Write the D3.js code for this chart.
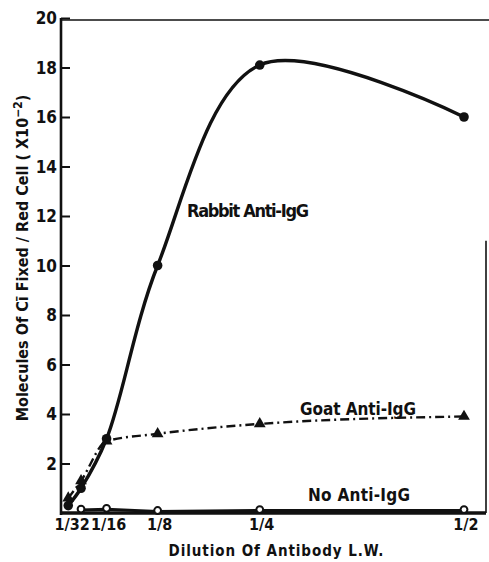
<!DOCTYPE html>
<html>
<head>
<meta charset="utf-8">
<script src="https://cdn.jsdelivr.net/npm/d3@7"></script>
<style>
  body { margin: 0; background: #fff; }
  text { font-family: "DejaVu Sans Condensed", "DejaVu Sans", sans-serif; font-weight: bold; fill: #111; }
</style>
</head>
<body>
<svg id="chart" width="489" height="562"></svg>
<script>
// Data
const dilutions = [1 / 64, 1 / 32, 1 / 16, 1 / 8, 1 / 4, 1 / 2];
const rabbit = [0.3, 1.0, 3.0, 10.0, 18.1, 16.0];
const goat = [0.6, 1.3, 2.9, 3.2, 3.6, 3.9];
const noAntiDilutions = [1 / 32, 1 / 16, 1 / 8, 1 / 4, 1 / 2];
const noAnti = [0.12, 0.15, 0.06, 0.1, 0.1];

const xTickValues = [1 / 32, 1 / 16, 1 / 8, 1 / 4, 1 / 2];
const xTickLabels = ["1/32", "1/16", "1/8", "1/4", "1/2"];
const yTickValues = [2, 4, 6, 8, 10, 12, 14, 16, 18, 20];

const svg = d3.select("#chart");

const x = d3.scaleLinear().domain([0, 0.5]).range([55.5, 464]);
const y = d3.scaleLinear().domain([0, 20]).range([513, 18]);

const axisLeft = 61, axisRight = 486;

// frame
svg.append("line")
  .attr("x1", axisLeft).attr("x2", 489)
  .attr("y1", y(20) + 2).attr("y2", y(20) + 2)
  .attr("stroke", "#111").attr("stroke-width", 1.6);
svg.append("line")
  .attr("x1", axisRight).attr("x2", axisRight)
  .attr("y1", y(11)).attr("y2", y(0))
  .attr("stroke", "#111").attr("stroke-width", 1.6);

// y axis
const yAxis = d3.axisRight(y)
  .tickValues(yTickValues)
  .tickSize(9)
  .tickFormat("");
const gy = svg.append("g").attr("transform", `translate(${axisLeft},0)`).call(yAxis);
gy.select(".domain").remove();
gy.selectAll(".tick line").attr("stroke", "#111").attr("stroke-width", 2);
svg.append("line")
  .attr("x1", axisLeft).attr("x2", axisLeft)
  .attr("y1", y(20)).attr("y2", y(0) + 2)
  .attr("stroke", "#111").attr("stroke-width", 2.6);

svg.append("g")
  .selectAll("text")
  .data(yTickValues)
  .join("text")
  .attr("x", axisLeft - 4)
  .attr("y", (d) => y(d) + 6)
  .attr("text-anchor", "end")
  .style("font-size", "17px")
  .text((d) => d);

// x axis
svg.append("line")
  .attr("x1", axisLeft).attr("x2", axisRight)
  .attr("y1", y(0)).attr("y2", y(0))
  .attr("stroke", "#111").attr("stroke-width", 3.5);

svg.append("g")
  .selectAll("text")
  .data(xTickValues)
  .join("text")
  .attr("x", (d, i) => x(d) + (i === 0 ? -9 : 2))
  .attr("y", 530)
  .attr("text-anchor", "middle")
  .style("font-size", "16px")
  .text((d, i) => xTickLabels[i]);

// axis titles
svg.append("text")
  .attr("x", 276).attr("y", 556)
  .attr("text-anchor", "middle")
  .attr("textLength", 215)
  .style("font-size", "15px")
  .text("Dilution Of Antibody L.W.");

const yTitle = svg.append("text")
  .attr("transform", "translate(28,258) rotate(-90)")
  .attr("text-anchor", "middle")
  .style("font-size", "16px");
yTitle.append("tspan").text("Molecules Of Cī Fixed / Red Cell ( X10");
yTitle.append("tspan").attr("dy", -6).style("font-size", "12px").text("−2");
yTitle.append("tspan").attr("dy", 6).text(")");

// series
const rabbitLine = d3.line()
  .x((d, i) => x(dilutions[i]))
  .y((d) => y(d))
  .curve(d3.curveCatmullRom.alpha(0.5));

const goatLine = d3.line()
  .x((d, i) => x(dilutions[i]))
  .y((d) => y(d))
  .curve(d3.curveMonotoneX);

const noAntiLine = d3.line()
  .x((d, i) => x(noAntiDilutions[i]))
  .y((d) => y(d));

svg.append("path")
  .attr("d", noAntiLine(noAnti))
  .attr("fill", "none")
  .attr("stroke", "#111")
  .attr("stroke-width", 3);

svg.append("path")
  .attr("d", goatLine(goat))
  .attr("fill", "none")
  .attr("stroke", "#111")
  .attr("stroke-width", 2.4)
  .attr("stroke-dasharray", "9,4,2,4");

svg.append("path")
  .attr("d", rabbitLine(rabbit))
  .attr("fill", "none")
  .attr("stroke", "#111")
  .attr("stroke-width", 3.4);

svg.append("g")
  .selectAll("path")
  .data(goat)
  .join("path")
  .attr("transform", (d, i) => `translate(${x(dilutions[i])},${y(d)})`)
  .attr("d", d3.symbol(d3.symbolTriangle, 60))
  .attr("fill", "#111");

svg.append("g")
  .selectAll("circle")
  .data(rabbit)
  .join("circle")
  .attr("cx", (d, i) => x(dilutions[i]))
  .attr("cy", (d) => y(d))
  .attr("r", 4.8)
  .attr("fill", "#111");

svg.append("g")
  .selectAll("circle")
  .data(noAnti)
  .join("circle")
  .attr("cx", (d, i) => x(noAntiDilutions[i]))
  .attr("cy", (d) => y(d) - 1)
  .attr("r", 3.4)
  .attr("fill", "#fff")
  .attr("stroke", "#111")
  .attr("stroke-width", 2);

// series labels
svg.append("text")
  .attr("x", 187).attr("y", 217)
  .attr("textLength", 122)
  .style("font-size", "18px")
  .text("Rabbit Anti-IgG");

svg.append("text")
  .attr("x", 300).attr("y", 415)
  .attr("textLength", 116)
  .style("font-size", "17px")
  .text("Goat Anti-IgG");

svg.append("text")
  .attr("x", 308).attr("y", 501)
  .attr("textLength", 102)
  .style("font-size", "17px")
  .text("No Anti-IgG");
</script>
</body>
</html>
